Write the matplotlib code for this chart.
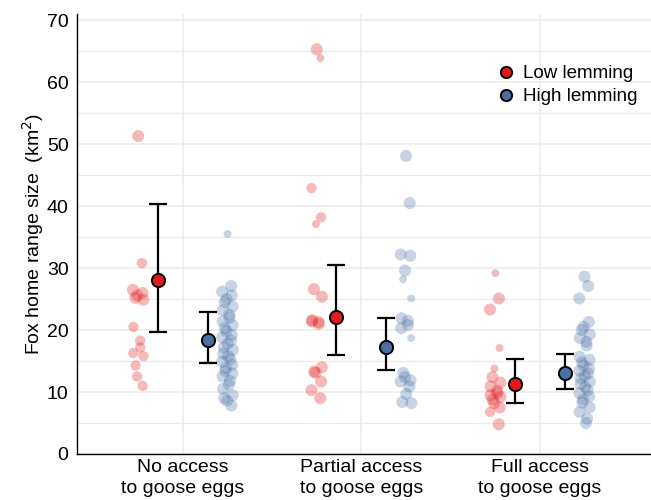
import numpy as np
import matplotlib
matplotlib.use("Agg")
import matplotlib.pyplot as plt
from matplotlib.ticker import MultipleLocator

plt.rcParams['font.family'] = ['Liberation Sans', 'DejaVu Sans']

# Categories and groups
categories = ["No access\nto goose eggs", "Partial access\nto goose eggs", "Full access\nto goose eggs"]
groups = ["Low lemming", "High lemming"]

# Raw home range sizes (km2)
no_low = [51.3, 30.8, 26.5, 26.0, 25.6, 25.2, 24.9, 20.5, 18.3, 17.2, 16.3, 15.8, 14.3, 12.5, 11.0]
no_high = [35.5, 27.1, 26.2, 25.6, 25.0, 24.5, 23.8, 23.2, 22.5, 22.0, 21.4, 20.8, 20.3, 19.8,
           19.2, 18.8, 18.3, 17.8, 17.2, 16.8, 16.2, 15.8, 15.3, 14.9, 14.4, 13.9, 13.4, 13.0,
           12.5, 11.8, 11.2, 10.5, 9.5, 9.0, 8.6, 7.8]
part_low = [65.3, 63.9, 42.9, 38.2, 37.1, 26.6, 25.4, 21.6, 21.3, 21.0, 21.4, 14.0, 13.3, 13.1,
            11.7, 10.3, 9.0]
part_high = [48.1, 40.5, 32.2, 32.0, 29.6, 28.2, 25.1, 21.9, 21.5, 20.8, 20.3, 18.7, 13.1, 12.4,
             11.9, 11.7, 10.9, 9.7, 8.4, 8.2]
full_low = [29.2, 25.1, 23.3, 17.1, 13.8, 12.4, 11.5, 10.9, 10.2, 9.8, 9.5, 9.2, 8.8, 8.2, 7.5,
            6.8, 4.8]
full_high = [28.6, 27.1, 25.1, 21.3, 20.5, 20.0, 19.3, 18.7, 18.1, 17.5, 15.7, 15.2, 14.8, 14.3,
             13.8, 13.4, 13.0, 12.6, 12.2, 11.7, 11.3, 10.8, 10.3, 9.8, 9.3, 8.8, 8.3, 7.5, 6.8,
             5.7, 5.0]

# Point weights (relative marker size)
no_low_w = [3, 2, 3, 3, 3, 3, 3, 2, 2, 2, 2, 2, 2, 2, 2]
part_low_w = [3, 1, 2, 2, 1, 3, 3, 3, 3, 3, 3, 3, 3, 3, 3, 3, 3]
part_high_w = [3, 3, 3, 3, 3, 1, 1, 3, 3, 3, 3, 1, 3, 3, 3, 3, 3, 3, 3, 3]
full_low_w = [1, 3, 3, 1, 1, 3, 3, 3, 3, 3, 3, 3, 3, 3, 3, 2, 3]

# Model estimates with 95% CI
est_low = [28.1, 22.1, 11.3]
lo_low = [19.7, 16.0, 8.3]
hi_low = [40.3, 30.5, 15.4]
est_high = [18.4, 17.3, 13.0]
lo_high = [14.7, 13.5, 10.5]
hi_high = [22.9, 22.0, 16.1]

raw = [[no_low, no_high], [part_low, part_high], [full_low, full_high]]
weights = [[no_low_w, None], [part_low_w, part_high_w], [full_low_w, None]]

red = '#E41A1C'
blue = '#4A6FA5'
sizes = {1: 32, 2: 55, 3: 75}

fig = plt.figure(figsize=(6.51, 5.0), dpi=100)
ax = fig.add_axes([0.118, 0.092, 0.882, 0.880])

for i, (pair, wpair) in enumerate(zip(raw, weights)):
    for g, (vals, w, col, off) in enumerate(zip(pair, wpair, [red, blue], [-0.25, 0.25])):
        n = len(vals)
        jit = 0.03 * np.sin(np.arange(n) * 2.4)
        if w is None:
            s = [sizes[3]] * n
            if g == 1 and i == 0:
                s[0] = sizes[1]
        else:
            s = [sizes[k] for k in w]
        ax.scatter(i + 1 + off + jit, vals, s=s, color=col, alpha=0.3, linewidths=0, zorder=2)

xpos = np.arange(1, 4)
for est, lo, hi, col, off, lab in [(est_low, lo_low, hi_low, red, -0.14, groups[0]),
                                   (est_high, lo_high, hi_high, blue, 0.14, groups[1])]:
    est = np.array(est)
    yerr = [est - np.array(lo), np.array(hi) - est]
    ax.errorbar(xpos + off, est, yerr=yerr, fmt='none', ecolor='black', elinewidth=1.6,
                capsize=6.5, capthick=1.6, zorder=3)
    ax.plot(xpos + off, est, 'o', ms=9.5, mfc=col, mec='black', mew=1.4, ls='none',
            zorder=4, label=lab)

ax.set_xlim(0.406, 3.622)
ax.set_ylim(0, 71)
ax.yaxis.set_major_locator(MultipleLocator(10))
ax.yaxis.set_minor_locator(MultipleLocator(5))
ax.set_xticks(xpos)
ax.set_xticklabels(categories, fontsize=14, linespacing=1.35)
ax.tick_params(axis='y', labelsize=14, length=0, pad=6)
ax.tick_params(axis='x', length=0, pad=3.5)
ax.tick_params(which='minor', length=0)
ax.grid(which='major', color='#ebebeb', lw=1.1, zorder=0)
ax.grid(which='minor', axis='y', color='#ebebeb', lw=0.8, zorder=0)
ax.set_axisbelow(True)
for sp in ['top', 'right']:
    ax.spines[sp].set_visible(False)
for sp in ['left', 'bottom']:
    ax.spines[sp].set_linewidth(1.0)
ax.set_ylabel('Fox home range size  (km$^2$)', fontsize=14, labelpad=0.5)

ax.legend(loc='upper left', bbox_to_anchor=(0.685, 0.922), frameon=False, fontsize=13.5,
          handletextpad=-0.1, labelspacing=0.3, markerscale=0.85)

fig.savefig('out.png', dpi=100)
